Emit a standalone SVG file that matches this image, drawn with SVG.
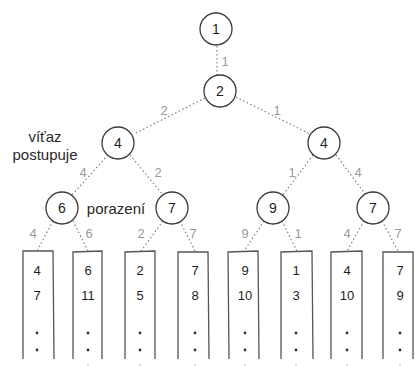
<svg xmlns="http://www.w3.org/2000/svg" width="415" height="366" viewBox="0 0 415 366">
  <style>
    .node circle { fill: #ffffff; stroke: #3a3a3a; stroke-width: 1.3; }
    .node text { font-family: "Liberation Sans", Arial, sans-serif; font-size: 14px; fill: #1e1e1e; text-anchor: middle; dominant-baseline: central; }
    .edge { stroke: #777; stroke-width: 1.1; stroke-dasharray: 1.5 2.5; fill: none; }
    .elabel { font-family: "Liberation Sans", Arial, sans-serif; font-size: 13px; fill: #999; text-anchor: middle; dominant-baseline: central; }
    .note { font-family: "Liberation Sans", Arial, sans-serif; font-size: 15px; fill: #2a2a2a; dominant-baseline: central; text-anchor: middle; }
    .col path { fill: none; stroke: #555; stroke-width: 1.3; }
    .col text { font-family: "Liberation Sans", Arial, sans-serif; font-size: 13px; fill: #1e1e1e; text-anchor: middle; dominant-baseline: central; }
    .dot { fill: #333; }
  </style>
  <rect width="415" height="366" fill="#ffffff"/>

  <!-- connectors -->
  <g id="connectors">
    <path class="edge" d="M217 46 L217 75"/>
    <path class="edge" d="M205 98 L134 134"/>
    <path class="edge" d="M236 97 L310 134"/>
    <path class="edge" d="M108 155 L72 195"/>
    <path class="edge" d="M130 155 L163 195"/>
    <path class="edge" d="M313 155 L283 195"/>
    <path class="edge" d="M336 155 L366 195"/>
    <path class="edge" d="M53 221 L37 251"/>
    <path class="edge" d="M73 221 L88 251"/>
    <path class="edge" d="M163 221 L141 251"/>
    <path class="edge" d="M180 221 L195 251"/>
    <path class="edge" d="M264 221 L244 251"/>
    <path class="edge" d="M282 221 L297 251"/>
    <path class="edge" d="M364 221 L347 251"/>
    <path class="edge" d="M382 221 L398 251"/>
  </g>

  <!-- edge labels -->
  <g id="edge-labels">
    <text class="elabel" x="225" y="61">1</text>
    <text class="elabel" x="164" y="110">2</text>
    <text class="elabel" x="277" y="110">1</text>
    <text class="elabel" x="83" y="172">4</text>
    <text class="elabel" x="158" y="172">2</text>
    <text class="elabel" x="292" y="172">1</text>
    <text class="elabel" x="358" y="172">4</text>
    <text class="elabel" x="33" y="233">4</text>
    <text class="elabel" x="89" y="233">6</text>
    <text class="elabel" x="141" y="233">2</text>
    <text class="elabel" x="193" y="233">7</text>
    <text class="elabel" x="245" y="233">9</text>
    <text class="elabel" x="298" y="233">1</text>
    <text class="elabel" x="347" y="233">4</text>
    <text class="elabel" x="398" y="233">7</text>
  </g>

  <!-- tournament tree nodes -->
  <g id="n1" class="node"><circle cx="216" cy="29" r="16"/><text x="216" y="29">1</text></g>
  <g id="n2" class="node"><circle cx="220" cy="91" r="16"/><text x="220" y="91">2</text></g>
  <g id="n4a" class="node"><circle cx="118" cy="143" r="16"/><text x="118" y="143">4</text></g>
  <g id="n4b" class="node"><circle cx="324" cy="143" r="16"/><text x="324" y="143">4</text></g>
  <g id="n6" class="node"><circle cx="62" cy="208" r="16"/><text x="62" y="208">6</text></g>
  <g id="n7a" class="node"><circle cx="172" cy="208" r="16"/><text x="172" y="208">7</text></g>
  <g id="n9" class="node"><circle cx="273" cy="208" r="16"/><text x="273" y="208">9</text></g>
  <g id="n7b" class="node"><circle cx="373" cy="208" r="16"/><text x="373" y="208">7</text></g>

  <!-- annotations -->
  <g id="notes">
    <text class="note" x="45" y="136">víťaz</text>
    <text class="note" x="45" y="154">postupuje</text>
    <text class="note" x="116" y="208">porazení</text>
  </g>

  <!-- sorted input columns -->
  <g id="col1" class="col"><path d="M23 359 L23 251 L53 251 L54 359"/><text x="37" y="270">4</text><text x="37" y="295">7</text></g>
  <g id="col2" class="col"><path d="M73 359 L73 252 L102 251 L102 359"/><text x="88" y="270">6</text><text x="88" y="295">11</text></g>
  <g id="col3" class="col"><path d="M125 359 L125 252 L155 251 L155 359"/><text x="140" y="270">2</text><text x="140" y="295">5</text></g>
  <g id="col4" class="col"><path d="M178 359 L178 252 L208 252 L209 359"/><text x="195" y="270">7</text><text x="195" y="295">8</text></g>
  <g id="col5" class="col"><path d="M229 359 L228 252 L258 251 L259 359"/><text x="245" y="270">9</text><text x="245" y="295">10</text></g>
  <g id="col6" class="col"><path d="M281 359 L281 252 L312 251 L313 359"/><text x="296" y="270">1</text><text x="296" y="295">3</text></g>
  <g id="col7" class="col"><path d="M331 359 L331 252 L362 251 L362 359"/><text x="347" y="270">4</text><text x="347" y="295">10</text></g>
  <g id="col8" class="col"><path d="M383 359 L383 252 L413 252 L413 359"/><text x="400" y="270">7</text><text x="400" y="295">9</text></g>

  <!-- ellipsis dots -->
  <g id="dots" class="dot">
    <circle cx="37" cy="333" r="1.4"/><circle cx="37" cy="350" r="1.4"/>
    <circle cx="88" cy="333" r="1.4"/><circle cx="88" cy="350" r="1.4"/>
    <circle cx="140" cy="333" r="1.4"/><circle cx="140" cy="350" r="1.4"/>
    <circle cx="195" cy="333" r="1.4"/><circle cx="195" cy="350" r="1.4"/>
    <circle cx="245" cy="333" r="1.4"/><circle cx="245" cy="350" r="1.4"/>
    <circle cx="296" cy="333" r="1.4"/><circle cx="296" cy="350" r="1.4"/>
    <circle cx="347" cy="333" r="1.4"/><circle cx="347" cy="350" r="1.4"/>
    <circle cx="400" cy="333" r="1.4"/><circle cx="400" cy="350" r="1.4"/>
  </g>
  <g id="dots-faint" fill="#ccc">
    <circle cx="88" cy="365" r="1"/><circle cx="140" cy="365" r="1"/><circle cx="195" cy="365" r="1"/>
    <circle cx="245" cy="365" r="1"/><circle cx="296" cy="365" r="1"/><circle cx="347" cy="365" r="1"/><circle cx="400" cy="365" r="1"/>
  </g>
</svg>
